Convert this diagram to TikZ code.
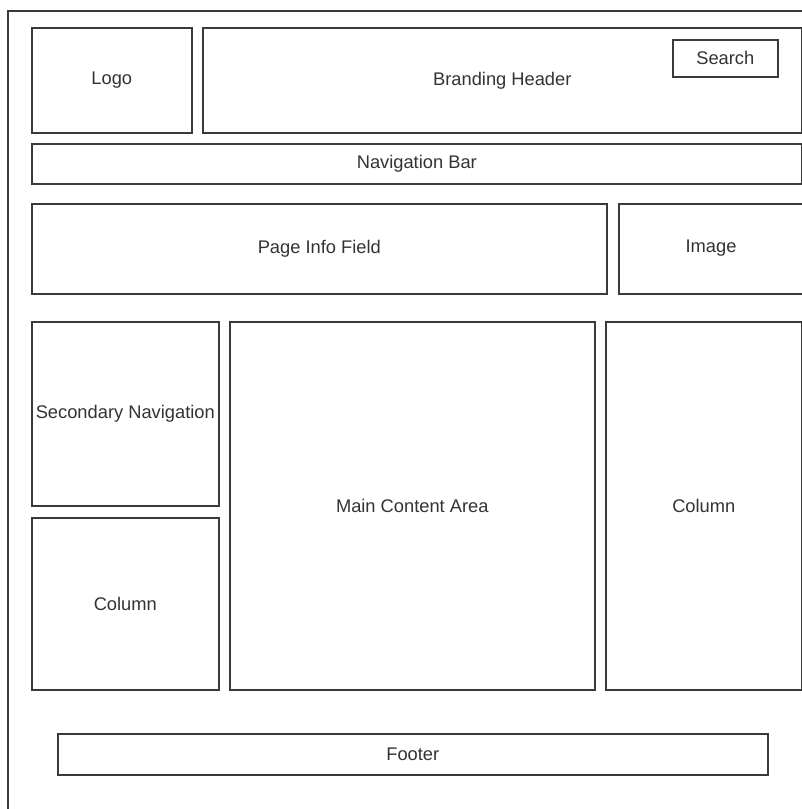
\documentclass[tikz,border=0pt]{standalone}
\usepackage{fontspec}
\setmainfont{Liberation Sans}
\definecolor{linea}{HTML}{3A3A3A}
\definecolor{texto}{HTML}{333333}
\tikzset{
    caja/.style={draw=linea, line width=1.6pt, anchor=north west, inner sep=0pt,
        text=texto, font=\fontsize{18.3}{22}\selectfont}
}
\begin{document}
\begin{tikzpicture}[x=1pt, y=-1pt]
    \useasboundingbox (0,0) rectangle (802,809);
    \clip (0,0) rectangle (802,809);
    \fill[white] (0,0) rectangle (802,809);

    % Marco exterior de la pagina
    \coordinate (marcoA) at (8,830);
    \coordinate (marcoB) at (8,11);
    \coordinate (marcoC) at (830,11);
    \draw[draw=linea, line width=1.6pt] (marcoA) -- (marcoB) -- (marcoC);

    \node[caja, minimum width=160pt, minimum height=105pt] (logo) at (31,27) {Logo};
    \node[caja, minimum width=599pt, minimum height=105pt] (header) at (202,27) {Branding Header};
    \node[caja, minimum width=105pt, minimum height=37pt] (search) at (672,39) {Search};
    \node[caja, minimum width=770pt, minimum height=40pt] (nav) at (31,143) {Navigation Bar};

    \node[caja, minimum width=575pt, minimum height=90pt] (info) at (31,203) {Page Info Field};
    \node[caja, minimum width=200pt, minimum height=90pt] (image) at (618,203) {};
    \node[texto, font=\fontsize{18.3}{22}\selectfont] (imagetext) at (711,248) {Image};

    % Columnas
    \node[caja, minimum width=187pt, minimum height=184pt] (secnav) at (31,321) {Secondary Navigation};
    \node[caja, minimum width=187pt, minimum height=172pt] (colleft) at (31,517) {Column};
    \node[caja, minimum width=365pt, minimum height=368pt] (main) at (229,321) {Main Content Area};
    \node[caja, minimum width=196pt, minimum height=368pt] (colright) at (605,321) {Column};

    \node[caja, minimum width=710pt, minimum height=41pt] (footer) at (57,733) {Footer};
\end{tikzpicture}
\end{document}
